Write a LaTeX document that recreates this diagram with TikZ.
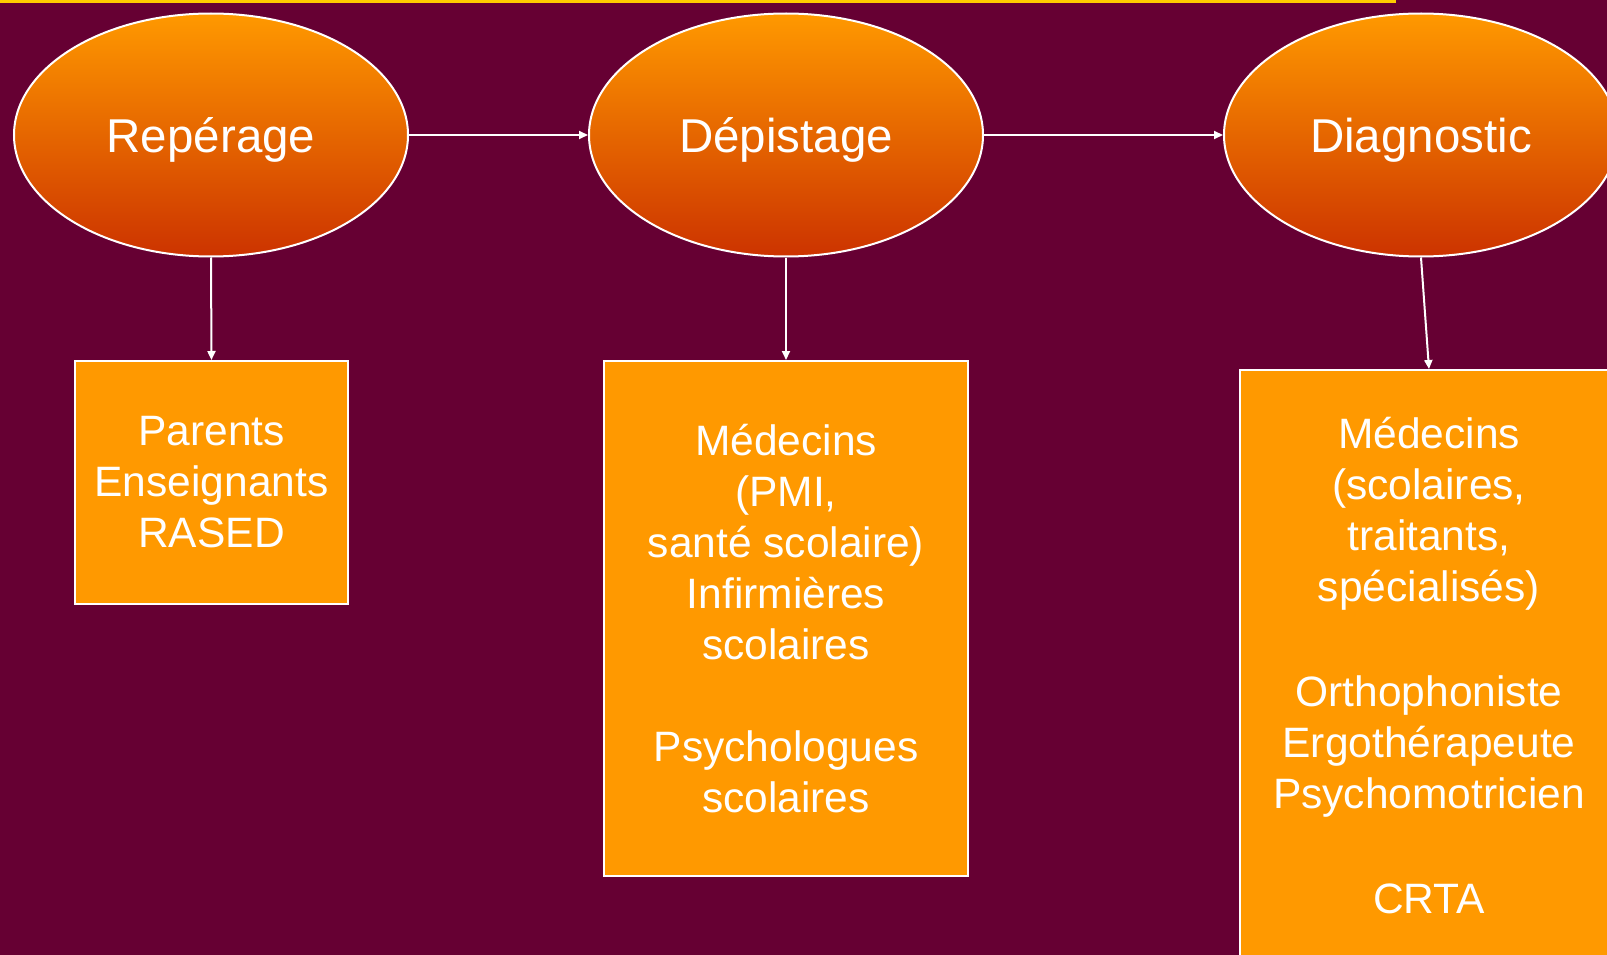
\documentclass[tikz,border=0pt]{standalone}
\usepackage{fontspec}
\setmainfont{Liberation Sans}
\usepackage{xcolor}
\usepackage{tikz}
\usetikzlibrary{positioning}
\usetikzlibrary{shapes.geometric}
\usetikzlibrary{arrows.meta}
\pgfdeclarelayer{nodelayer}
\pgfdeclarelayer{edgelayer}
\pgfsetlayers{nodelayer,edgelayer,main}
\definecolor{wine}{HTML}{660033}
\definecolor{amber}{HTML}{FF9900}
\definecolor{tangerine}{HTML}{EA7800}
\definecolor{rust}{HTML}{CC3300}
\definecolor{gold}{HTML}{FFCC00}
\tikzset{
  stage/.style={ellipse, draw=white, line width=2pt, top color=amber, middle color=tangerine,
    bottom color=rust, minimum width=394pt, minimum height=243pt, inner sep=0pt, text=white,
    text height=35pt, text depth=0pt, font=\fontsize{47.5}{56}\selectfont},
  actors/.style={rectangle, draw=white, line width=2pt, fill=amber, text=white,
    align=center, inner sep=0pt, font=\fontsize{42.5}{51}\selectfont},
  flow/.style={draw=white, line width=2pt, -{Triangle[length=9pt,width=8pt]}}
}

\begin{document}
\begin{tikzpicture}[x=1pt, y=-1pt]
  \begin{pgfonlayer}{nodelayer}
    \fill [wine] (0, 0) rectangle (1607, 955);
    \useasboundingbox (0, 0) rectangle (1607, 955);
    \fill [gold] (0, 0) rectangle (1396, 3);
    \node [stage] (0) at (211, 135) {Repérage};
    \node [stage] (1) at (786, 135) {Dépistage};
    \node [stage] (2) at (1421, 135) {Diagnostic};
    \node [actors, minimum width=273pt, minimum height=243pt] (3) at (211.5, 482.5)
      {Parents\\Enseignants\\RASED};
    \node [actors, minimum width=364pt, minimum height=515pt] (4) at (786, 618.5)
      {Médecins\\(PMI,\\santé scolaire)\\Infirmières\\scolaires\\[51pt]Psychologues\\scolaires};
    \node [actors, minimum width=378pt, minimum height=591pt] (5) at (1429, 665.5)
      {Médecins\\(scolaires,\\traitants,\\spécialisés)\\[54pt]Orthophoniste\\Ergothérapeute\\Psychomotricien\\[54pt]CRTA};
  \end{pgfonlayer}
  \begin{pgfonlayer}{edgelayer}
    \draw [flow] (0.east) to (1.west);
    \draw [flow] (1.east) to (2.west);
    \draw [flow] (0.south) to (3.north);
    \draw [flow] (1.south) to (4.north);
    \draw [flow] (2.south) to (5.north);
  \end{pgfonlayer}
\end{tikzpicture}
\end{document}
